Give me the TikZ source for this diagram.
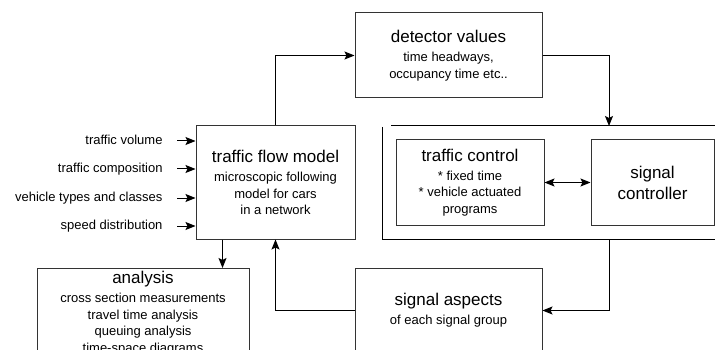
\documentclass[tikz,border=0pt]{standalone}
\usepackage{fontspec}
\setmainfont{Liberation Sans}
\usetikzlibrary{arrows.meta,positioning}
\newcommand{\ttl}{\fontsize{17}{20}\selectfont}
\newcommand{\subtxt}{\fontsize{13}{16.5}\selectfont}
\tikzstyle{box}=[draw=black!80,line width=1pt,inner sep=0pt,align=center,font=\subtxt]
\tikzstyle{lab}=[anchor=base east,inner sep=0pt,font=\subtxt]

\begin{document}
\begin{tikzpicture}[x=1pt,y=-1pt,line width=1pt,>={Stealth[length=10pt,width=8pt,inset=2pt]}]
\useasboundingbox (0,0) rectangle (715,350);
\clip (0,0) rectangle (715,350);
\node[box,minimum width=159pt,minimum height=113pt] (model) at (275.5,182.5) {{\ttl traffic flow model}\\[2.5pt] microscopic following\\ model for cars\\ in a network};
\node[box,minimum width=187pt,minimum height=85pt] (detector) at (448.5,55.5) {{\ttl detector values}\\[2.5pt] time headways,\\ occupancy time etc..};
\node[box,minimum width=148pt,minimum height=85pt] (control) at (470,182.5) {{\ttl traffic control}\\[2.5pt] * fixed time\\ * vehicle actuated\\ programs};
\node[box,minimum width=123pt,minimum height=85pt,font=\ttl] (controller) at (652.5,182.5) {signal\\[1pt] controller};
\node[box,minimum width=187pt,minimum height=85pt] (aspects) at (448.5,310.5) {{\ttl signal aspects}\\[2.5pt] of each signal group};
\node[box,minimum width=212pt,inner ysep=3pt,anchor=north] (analysis) at (143,268) {{\ttl analysis}\\[2.5pt] cross section measurements\\ travel time analysis\\ queuing analysis\\ time-space diagrams};
% inputs of the model
\node[lab] (vol) at (163,144.5) {traffic volume};
\node[lab] (comp) at (163,172.5) {traffic composition};
\node[lab] (types) at (163,201.5) {vehicle types and classes};
\node[lab] (speed) at (163,229.5) {speed distribution};
\coordinate (vola) at (177,141);
\coordinate (compa) at (177,169);
\coordinate (typesa) at (177,198);
\coordinate (speeda) at (177,226);
\path[->]
(vola) edge (vola -| model.west)
(compa) edge (compa -| model.west)
(typesa) edge (typesa -| model.west)
(speeda) edge (speeda -| model.west)
(control) edge[<->] (controller);
% frame round the control part
\draw (382,127) -- (382,239) -- (720,239);
\draw (391,126) -- (720,126);
\coordinate (fin) at (609,126);
\coordinate (fout) at (609,239);
\draw[->] (detector.east) -| (fin);
\draw[->] (fout) |- (aspects.east);
\draw[->] (aspects.west) -| (model.south);
\draw[->] (model.north) |- (detector.west);
\draw[->] ([xshift=27pt]model.south west) -- ([xshift=27pt]model.south west |- analysis.north);
\end{tikzpicture}
\end{document}
